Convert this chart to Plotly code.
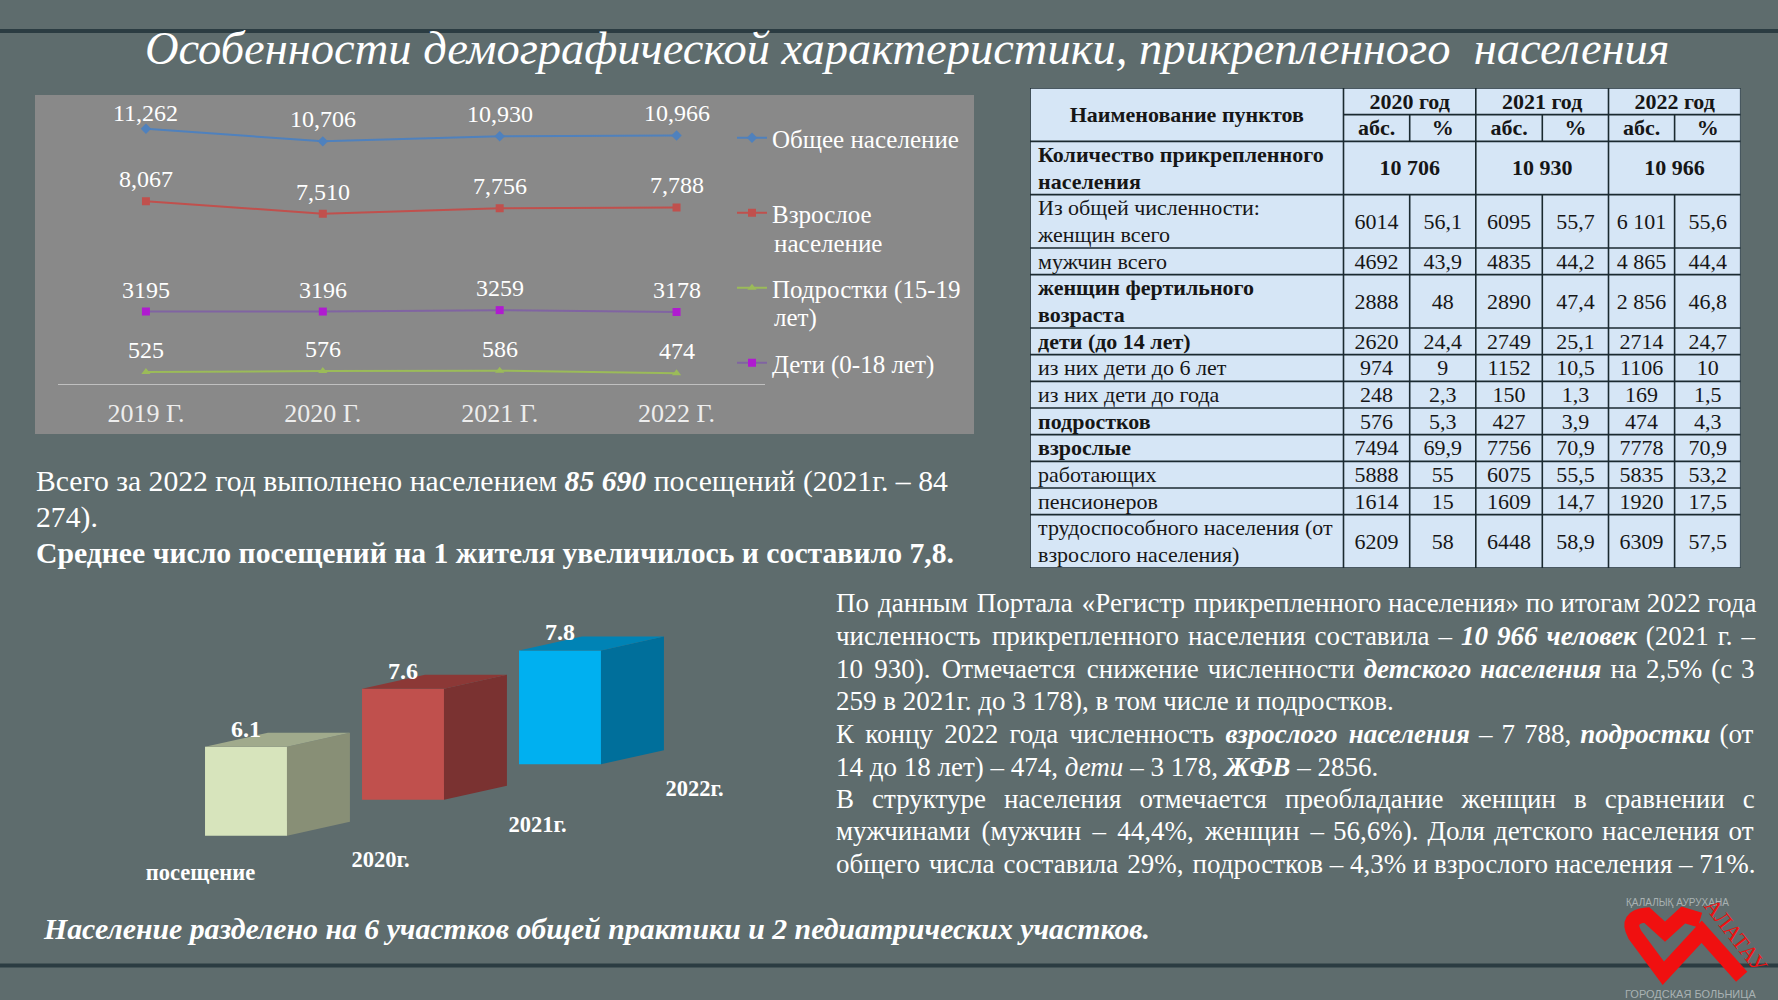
import plotly.graph_objects as go

W, H = 1778, 1000

# line chart
YEARS = ["2019 Г.", "2020 Г.", "2021 Г.", "2022 Г."]
TOTAL = [11262, 10706, 10930, 10966]
ADULTS = [8067, 7510, 7756, 7788]
TEENS = [525, 576, 586, 474]
CHILDREN = [3195, 3196, 3259, 3178]

# 3d bars
VISITS = [6.1, 7.6, 7.8]
VISIT_LABELS = ["посещение", "2020г.", "2021г.", "2022г."]

# table
TABLE_YEARS = ["2020 год", "2021 год", "2022 год"]
TABLE_TOTALS = ["10 706", "10 930", "10 966"]
ROW_LABELS = [
    ["Из общей численности:", "женщин всего"],
    ["мужчин всего"],
    ["женщин фертильного", "возраста"],
    ["дети (до 14 лет)"],
    ["из них дети до 6 лет"],
    ["из них дети до года"],
    ["подростков"],
    ["взрослые"],
    ["работающих"],
    ["пенсионеров"],
    ["трудоспособного населения (от", "взрослого населения)"],
]
BOLD_ROWS = [2, 3, 6, 7]
ABS_2020 = ["6014", "4692", "2888", "2620", "974", "248", "576", "7494", "5888", "1614", "6209"]
PCT_2020 = ["56,1", "43,9", "48", "24,4", "9", "2,3", "5,3", "69,9", "55", "15", "58"]
ABS_2021 = ["6095", "4835", "2890", "2749", "1152", "150", "427", "7756", "6075", "1609", "6448"]
PCT_2021 = ["55,7", "44,2", "47,4", "25,1", "10,5", "1,3", "3,9", "70,9", "55,5", "14,7", "58,9"]
ABS_2022 = ["6 101", "4 865", "2 856", "2714", "1106", "169", "474", "7778", "5835", "1920", "6309"]
PCT_2022 = ["55,6", "44,4", "46,8", "24,7", "10", "1,5", "4,3", "70,9", "53,2", "17,5", "57,5"]

TITLE = "Особенности демографической характеристики, прикрепленного  населения"
LEFT_TEXT = [
    "Всего за 2022 год выполнено населением <b><i>85 690</i></b> посещений (2021г. – 84",
    "274).",
    "<b>Среднее число посещений на 1 жителя увеличилось и составило 7,8.</b>",
]
RIGHT_TEXT = [
    "По данным Портала «Регистр прикрепленного населения» по итогам 2022 года",
    "численность прикрепленного населения составила – <b><i>10 966 человек</i></b> (2021 г. –",
    "10 930). Отмечается снижение численности <b><i>детского населения</i></b> на 2,5% (с 3",
    "259 в 2021г. до 3 178), в том числе и подростков.",
    "К концу 2022 года численность <b><i>взрослого населения</i></b> – 7 788, <b><i>подростки</i></b> (от",
    "14 до 18 лет) – 474, <i>дети</i> – 3 178, <b><i>ЖФВ</i></b> – 2856.",
    "В структуре населения отмечается преобладание женщин в сравнении с",
    "мужчинами (мужчин – 44,4%, женщин – 56,6%). Доля детского населения от",
    "общего числа составила 29%, подростков – 4,3% и взрослого населения – 71%.",
]
# hair spaces added per line so the paragraph reads justified
RIGHT_PAD = [4, 11, 13, 0, 17, 0, 40, 15, 4]
BOTTOM_TEXT = "<b><i>Население разделено на 6 участков общей практики и 2 педиатрических участков.</i></b>"

SERIF = "Liberation Serif"
BG = "#5E6C6D"
DARK = "#2B3C42"
RED = "#F01010"


def px(x):
    return x / W


def py(y):
    return 1 - y / H


def note(x, y, text, size, color="white", anchor="left", family=SERIF):
    fig.add_annotation(x=px(x), y=py(y), xref="paper", yref="paper", text=text, showarrow=False,
                       xanchor=anchor, yanchor="middle", font=dict(family=family, size=size, color=color))


def justify(line, pad):
    parts = line.split(" ")
    gaps = len(parts) - 1
    out = parts[0]
    for i, part in enumerate(parts[1:]):
        n = pad // gaps + (1 if i < pad % gaps else 0)
        out += " " + "\u200a" * n + part
    return out


fig = go.Figure()

# ---- line chart ----
series = [
    ("Общее население", TOTAL, "#4F81BD", "diamond", [f"{v:,}" for v in TOTAL]),
    ("Взрослое", ADULTS, "#C0504D", "square", [f"{v:,}" for v in ADULTS]),
    ("Подростки (15-19", TEENS, "#9BBB59", "triangle-up", [str(v) for v in TEENS]),
    ("Дети (0-18 лет)", CHILDREN, "#8064A2", "square", [str(v) for v in CHILDREN]),
]
for name, vals, color, symbol, labels in series:
    mcolor = "#B01BD0" if name.startswith("Дети") else color
    fig.add_trace(go.Scatter(x=YEARS, y=vals, name=name, legendgroup=name, mode="lines+markers",
                             line=dict(color=color, width=2), marker=dict(symbol=symbol, size=8, color=mcolor)))
    for i, lab in enumerate(labels):
        # the top label of the chart sits closer to its point
        shift = 16 if vals[i] > 11000 else 22
        fig.add_annotation(x=YEARS[i], y=vals[i], xref="x", yref="y", text=lab, showarrow=False, yshift=shift,
                           font=dict(family=SERIF, size=24, color="white"))

# second lines of the wrapped legend entries
note(772, 243, "население", 25)
note(772, 318, "лет)", 25)

# ---- table ----
COLS = [0, 313.5, 379.7, 445.8, 512.3, 578.5, 644.6, 710.7]
T = dict(xaxis="x2", yaxis="y2", showlegend=False, hoverinfo="skip")
TEXT_DY = 0.07

spans = [2 if len(r) == 2 else 1 for r in ROW_LABELS]
tops = []
y_pos = 4
for s in spans:
    tops.append(y_pos)
    y_pos += s

grid_x, grid_y = [], []


def seg(x0, y0, x1, y1):
    grid_x.extend([x0, x1, None])
    grid_y.extend([y0, y1, None])


for c in [0, 1, 3, 5, 7]:
    seg(COLS[c], 0, COLS[c], 18)
for c in [2, 4, 6]:
    seg(COLS[c], 1, COLS[c], 2)
    seg(COLS[c], 4, COLS[c], 18)
seg(COLS[0], 0, COLS[7], 0)
seg(COLS[1], 1, COLS[7], 1)
for y in [2] + tops + [18]:
    seg(COLS[0], y, COLS[7], y)
fig.add_trace(go.Scatter(x=grid_x, y=grid_y, mode="lines", line=dict(color="#1B2A30", width=1.6), **T))

bx, by, bt = [], [], []   # bold centred
nx, ny, nt = [], [], []   # normal centred
lx, ly, lt = [], [], []   # left labels


def centre(x, y, text, bold=False):
    if bold:
        bx.append(x), by.append(y + TEXT_DY), bt.append(f"<b>{text}</b>")
    else:
        nx.append(x), ny.append(y + TEXT_DY), nt.append(text)


centre(COLS[1] / 2, 1, "Наименование пунктов", True)
for k in range(3):
    left, mid, right = COLS[1 + 2 * k], COLS[2 + 2 * k], COLS[3 + 2 * k]
    centre((left + right) / 2, 0.5, TABLE_YEARS[k], True)
    centre((left + mid) / 2, 1.5, "абс.", True)
    centre((mid + right) / 2, 1.5, "%", True)
    centre((left + right) / 2, 3, TABLE_TOTALS[k], True)

lx += [8, 8]
ly += [2.5 + TEXT_DY, 3.5 + TEXT_DY]
lt += ["<b>Количество прикрепленного</b>", "<b>населения</b>"]

columns = [ABS_2020, PCT_2020, ABS_2021, PCT_2021, ABS_2022, PCT_2022]
for r, lines in enumerate(ROW_LABELS):
    for j, line in enumerate(lines):
        lx.append(8)
        ly.append(tops[r] + j + 0.5 + TEXT_DY)
        lt.append(f"<b>{line}</b>" if r in BOLD_ROWS else line)
    for c, col in enumerate(columns):
        centre((COLS[c + 1] + COLS[c + 2]) / 2, tops[r] + spans[r] / 2, col[r])

TFONT = dict(family=SERIF, size=22, color="#161616")
fig.add_trace(go.Scatter(x=nx, y=ny, text=nt, mode="text", textposition="middle center", textfont=TFONT, cliponaxis=False, **T))
fig.add_trace(go.Scatter(x=bx, y=by, text=bt, mode="text", textposition="middle center", textfont=TFONT, cliponaxis=False, **T))
fig.add_trace(go.Scatter(x=lx, y=ly, text=lt, mode="text", textposition="middle right", textfont=TFONT, cliponaxis=False, **T))

# ---- 3d bars ----
BAR_COLORS = [("#D7E4BC", "#A0AA8C", "#888F76"), ("#C0504D", "#8C3836", "#7A3231"), ("#00B0F0", "#0083B5", "#006F9B")]
BASES = [0, 2.47, 4.9]
BAR_W = 0.522
DEPTH_X, DEPTH_Y = 0.401, 0.96
B = dict(xaxis="x3", yaxis="y3", showlegend=False, hoverinfo="skip")

for i, v in enumerate(VISITS):
    front, top, side = BAR_COLORS[i]
    b = BASES[i]
    xl, xr = i - BAR_W / 2, i + BAR_W / 2
    fig.add_trace(go.Bar(x=[i], y=[v], base=[b], width=[BAR_W], marker=dict(color=front, line=dict(width=0)), **B))
    fig.add_trace(go.Scatter(x=[xr, xr + DEPTH_X, xr + DEPTH_X, xr, xr], y=[b, b + DEPTH_Y, b + v + DEPTH_Y, b + v, b],
                             mode="lines", fill="toself", fillcolor=side, line=dict(width=0), **B))
    fig.add_trace(go.Scatter(x=[xl, xl + DEPTH_X, xr + DEPTH_X, xr, xl], y=[b + v, b + v + DEPTH_Y, b + v + DEPTH_Y, b + v, b + v],
                             mode="lines", fill="toself", fillcolor=top, line=dict(width=0), **B))
    fig.add_annotation(x=i, y=b + v, xref="x3", yref="y3", text=f"<b>{v}</b>", showarrow=False, yshift=18,
                       font=dict(family=SERIF, size=24, color="white"))

fig.add_trace(go.Scatter(x=[-0.29, 0.857, 1.857, 2.857], y=[-2.68, -1.78, 0.665, 3.1],
                         text=[f"<b>{s}</b>" for s in VISIT_LABELS], mode="text", textposition="middle center",
                         textfont=dict(family=SERIF, size=22.5, color="white"), **B))

# ---- free text ----
note(907, 48, f"<i>{TITLE}</i>", 46.5, anchor="center")
for y, line in zip([481, 517, 553], LEFT_TEXT):
    note(34, y, line, 29.7)
for y, line, pad in zip([603, 636, 669, 701, 734, 767, 799, 831, 864], RIGHT_TEXT, RIGHT_PAD):
    note(834, y, justify(line, pad), 27)
note(41, 928, BOTTOM_TEXT, 29.8)

# ---- logo ----
note(1677, 902, "ҚАЛАЛЫҚ АУРУХАНА", 10, color="#A9B2B3", anchor="center", family="Liberation Sans")
note(1690, 994, "ГОРОДСКАЯ БОЛЬНИЦА", 11, color="#A9B2B3", anchor="center", family="Liberation Sans")
fig.add_annotation(x=px(1736), y=py(935), xref="paper", yref="paper", text="АЛАТАУ", showarrow=False, textangle=52,
                   xanchor="center", yanchor="middle",
                   font=dict(family="Liberation Sans Narrow", size=22, color=RED))

logo_path = "M {} {} L {} {} L {} {} L {} {} Q {} {} {} {} L {} {} L {} {} L {} {}".format(
    px(1741.7), py(976.7), px(1701.7), py(931.7), px(1663.3), py(973.3), px(1635), py(935),
    px(1625), py(916.7), px(1646.7), py(915), px(1665), py(931.7), px(1683.3), py(915), px(1700), py(920))

fig.update_layout(
    width=W, height=H, margin=dict(l=0, r=0, t=0, b=0),
    paper_bgcolor=BG, plot_bgcolor="rgba(0,0,0,0)", barmode="overlay",
    font=dict(family=SERIF, color="white"),
    legend=dict(x=px(732), y=py(115), xanchor="left", yanchor="top", bgcolor="rgba(0,0,0,0)",
                font=dict(family=SERIF, size=25, color="white"), tracegroupgap=39.5, itemclick=False),
    xaxis=dict(domain=[px(57.5), px(765)], range=[-0.5, 3.5], showgrid=False, zeroline=False, showline=True,
               linecolor="#C0C0C0", linewidth=1.2, ticks="", tickfont=dict(family=SERIF, size=26, color="#EDEDED"),
               ticklabelstandoff=6),
    yaxis=dict(domain=[py(384), py(112)], range=[0, 12000], visible=False),
    xaxis2=dict(domain=[px(1030), px(1740.7)], range=[0, 710.7], visible=False, anchor="y2"),
    yaxis2=dict(domain=[py(568), py(88)], range=[18, 0], visible=False, anchor="x2"),
    xaxis3=dict(domain=[px(100), px(760)], range=[(100 - 246) / 157, (760 - 246) / 157], visible=False, anchor="y3"),
    yaxis3=dict(domain=[py(900), py(620)], range=[-4.41, 14.79], visible=False, anchor="x3"),
    shapes=[
        dict(type="rect", xref="paper", yref="paper", x0=px(35), x1=px(974), y0=py(95), y1=py(434),
             fillcolor="#898989", line_width=0, layer="below"),
        dict(type="rect", xref="paper", yref="paper", x0=px(1030), x1=px(1740.7), y0=py(88), y1=py(568),
             fillcolor="#D6E6F6", line_width=0, layer="below"),
        dict(type="line", xref="paper", yref="paper", x0=0, x1=1, y0=py(31), y1=py(31), line=dict(color=DARK, width=4), layer="below"),
        dict(type="line", xref="paper", yref="paper", x0=0, x1=1, y0=py(965.5), y1=py(965.5), line=dict(color=DARK, width=4), layer="below"),
        dict(type="path", xref="paper", yref="paper", path=logo_path, line=dict(color=RED, width=15)),
    ],
)

fig.write_html("out.html", config={"displayModeBar": False}, post_script="document.body.style.margin='0';")
